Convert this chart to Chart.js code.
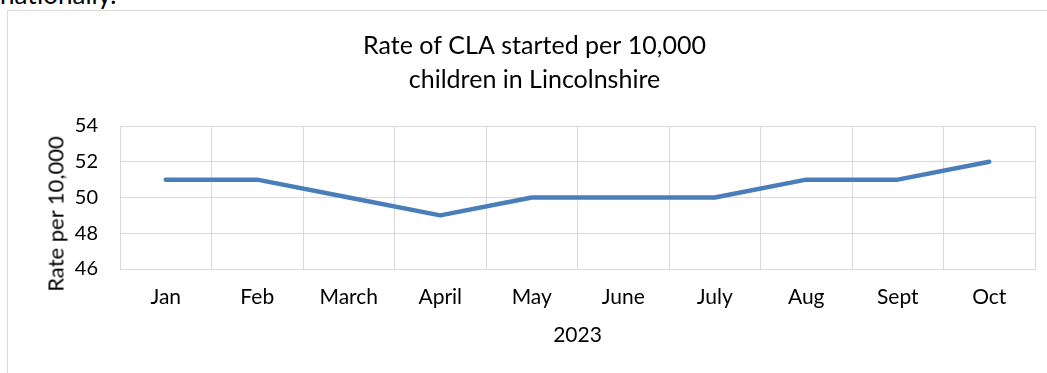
<!DOCTYPE html>
<html><head><meta charset="utf-8">
<script src="https://cdn.jsdelivr.net/npm/chart.js@4/dist/chart.umd.min.js"></script>
<style>
html,body{margin:0;padding:0;background:#fff;overflow:hidden;width:1047px;height:373px;}
#wrap{position:relative;width:1047px;height:373px;overflow:hidden;}
#frame{position:absolute;left:7px;top:10px;width:1100px;height:420px;border:1px solid #d9d9d9;box-sizing:border-box;}
#prev{position:absolute;left:0;top:-22px;font-family:Lato,sans-serif;font-size:26px;color:#000;white-space:nowrap;}
canvas{position:absolute;left:0;top:0;}
#ytitle{position:absolute;left:55px;top:214px;transform:translate(-50%,-50%) rotate(-90deg);font-family:Lato,sans-serif;font-size:22px;color:#000;white-space:nowrap;}
</style></head>
<body><div id="wrap">
<div id="prev">nationally.</div>
<div id="frame"></div>
<canvas id="c" width="1047" height="373"></canvas>
<div id="ytitle">Rate per 10,000</div>
</div>
<script>
const categories = ['Jan','Feb','March','April','May','June','July','Aug','Sept','Oct'];
const rateValues = [51, 51, 50, 49, 50, 50, 50, 51, 51, 52];
const titleLines = ['Rate of CLA started per 10,000', 'children in Lincolnshire'];
const xAxisTitle = '2023';

const grid = '#d9d9d9';
new Chart(document.getElementById('c'), {
  type: 'line',
  data: {
    labels: categories,
    datasets: [{
      data: rateValues,
      borderColor: '#4a7ebb',
      borderWidth: 4.5,
      borderCapStyle: 'round',
      borderJoinStyle: 'round',
      pointRadius: 0,
      pointHoverRadius: 0,
      tension: 0,
      fill: false
    }]
  },
  options: {
    responsive: false,
    devicePixelRatio: 1,
    animation: false,
    events: [],
    layout: { padding: { left: 34, right: 12, top: 0, bottom: 0 } },
    plugins: {
      legend: { display: false },
      tooltip: { enabled: false },
      title: {
        display: true,
        text: titleLines,
        color: '#000',
        font: { family: 'Lato', size: 25, weight: 'normal', lineHeight: 1.36 },
        padding: { top: 29, bottom: 29 }
      }
    },
    scales: {
      x: {
        offset: true,
        grid: { offset: true, color: grid, lineWidth: 1, drawTicks: false },
        border: { display: true, color: grid, width: 1 },
        ticks: { color: '#000', font: { family: 'Lato', size: 21 }, padding: 16, maxRotation: 0, autoSkip: false },
        title: { display: true, text: xAxisTitle, color: '#000', font: { family: 'Lato', size: 21 }, padding: { top: 0, bottom: 25 } },
        afterFit: s => { s.height = 104; }
      },
      y: {
        min: 46, max: 54,
        grid: { color: grid, lineWidth: 1, drawTicks: false },
        border: { display: true, color: grid, width: 1 },
        ticks: { stepSize: 2, color: '#000', font: { family: 'Lato', size: 20 }, padding: 22 },
        afterFit: s => { s.width = 86; }
      }
    }
  }
});
</script>
</body></html>
